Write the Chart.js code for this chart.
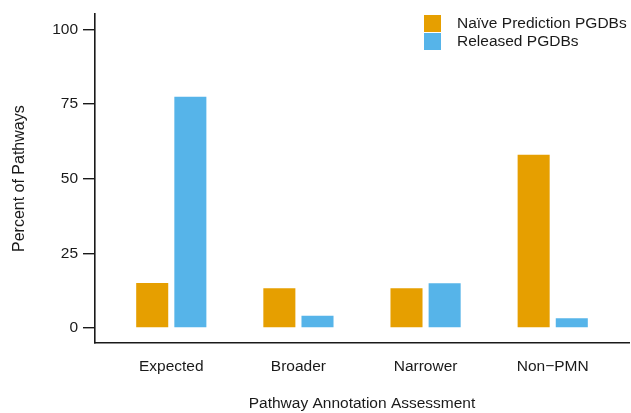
<!DOCTYPE html>
<html>
<head>
<meta charset="utf-8">
<script src="https://cdn.jsdelivr.net/npm/chart.js@4"></script>
<style>
  html, body { margin: 0; padding: 0; background: #fff; }
  #wrap { width: 631px; height: 413px; position: relative; }
</style>
</head>
<body>
<div id="wrap"><canvas id="c" width="631" height="413"></canvas></div>
<script>
// Share of pathways per annotation assessment outcome
const categories = ['Expected', 'Broader', 'Narrower', 'Non\u2212PMN'];
const naivePrediction = [15.1, 13.3, 13.3, 58.0];
const releasedPGDBs = [77.4, 4.1, 15.0, 3.3];
const yTicks = [0, 25, 50, 75, 100];
const seriesNames = ['Na\u00efve Prediction PGDBs', 'Released PGDBs'];

const FONT = 'Liberation Sans, Arial, Helvetica, sans-serif';
const TEXT = '#1a1a1a';
const positions = categories.map((_, i) => i + 1);

// Vertical legend drawn in the upper-right corner of the panel
const stackedLegend = {
  id: 'stackedLegend',
  afterDraw(chart) {
    const ctx = chart.ctx;
    ctx.save();
    ctx.font = '15.5px ' + FONT;
    ctx.textBaseline = 'middle';
    ctx.textAlign = 'left';
    chart.data.datasets.forEach((ds, i) => {
      const y = 15 + i * 18;
      ctx.fillStyle = ds.backgroundColor;
      ctx.fillRect(424, y, 17, 17);
      ctx.fillStyle = TEXT;
      ctx.fillText(ds.label, 457, y + 8.5);
    });
    ctx.restore();
  }
};

new Chart(document.getElementById('c'), {
  type: 'bar',
  data: {
    datasets: [
      {
        label: seriesNames[0],
        data: positions.map((x, i) => ({ x, y: naivePrediction[i] })),
        backgroundColor: '#E69F00'
      },
      {
        label: seriesNames[1],
        data: positions.map((x, i) => ({ x, y: releasedPGDBs[i] })),
        backgroundColor: '#56B4E9'
      }
    ]
  },
  options: {
    responsive: false,
    animation: false,
    layout: { padding: { top: 14, right: 2, left: 0, bottom: 0 } },
    datasets: { bar: { categoryPercentage: 0.6, barPercentage: 0.84 } },
    plugins: { legend: { display: false }, tooltip: { enabled: false } },
    scales: {
      x: {
        type: 'linear',
        offset: false,
        min: 0.4,
        max: 4.6,
        afterBuildTicks(scale) { scale.ticks = positions.map(v => ({ value: v })); },
        afterFit(scale) { scale.height = 70; },
        grid: { display: false, drawTicks: false, offset: false },
        border: { display: true, color: TEXT, width: 1.6 },
        ticks: {
          padding: 14,
          color: TEXT,
          font: { family: FONT, size: 15.5 },
          maxRotation: 0,
          callback: (v) => categories[v - 1] ?? ''
        },
        title: {
          display: true,
          text: 'Pathway Annotation Assessment',
          color: TEXT,
          font: { family: FONT, size: 15.5 },
          padding: { top: 10, bottom: 0 }
        }
      },
      y: {
        min: -5,
        max: 105,
        afterBuildTicks(scale) { scale.ticks = yTicks.map(v => ({ value: v })); },
        afterFit(scale) { scale.width = 95; },
        grid: { drawOnChartArea: false, drawTicks: true, tickLength: 12, color: TEXT, lineWidth: 1.4 },
        border: { display: true, color: TEXT, width: 1.6 },
        ticks: {
          padding: 5,
          color: TEXT,
          font: { family: FONT, size: 15.5 }
        },
        title: {
          display: true,
          text: 'Percent of Pathways',
          color: TEXT,
          font: { family: FONT, size: 16 },
          padding: { top: 10, bottom: 0 }
        }
      }
    }
  },
  plugins: [stackedLegend]
});
</script>
</body>
</html>
